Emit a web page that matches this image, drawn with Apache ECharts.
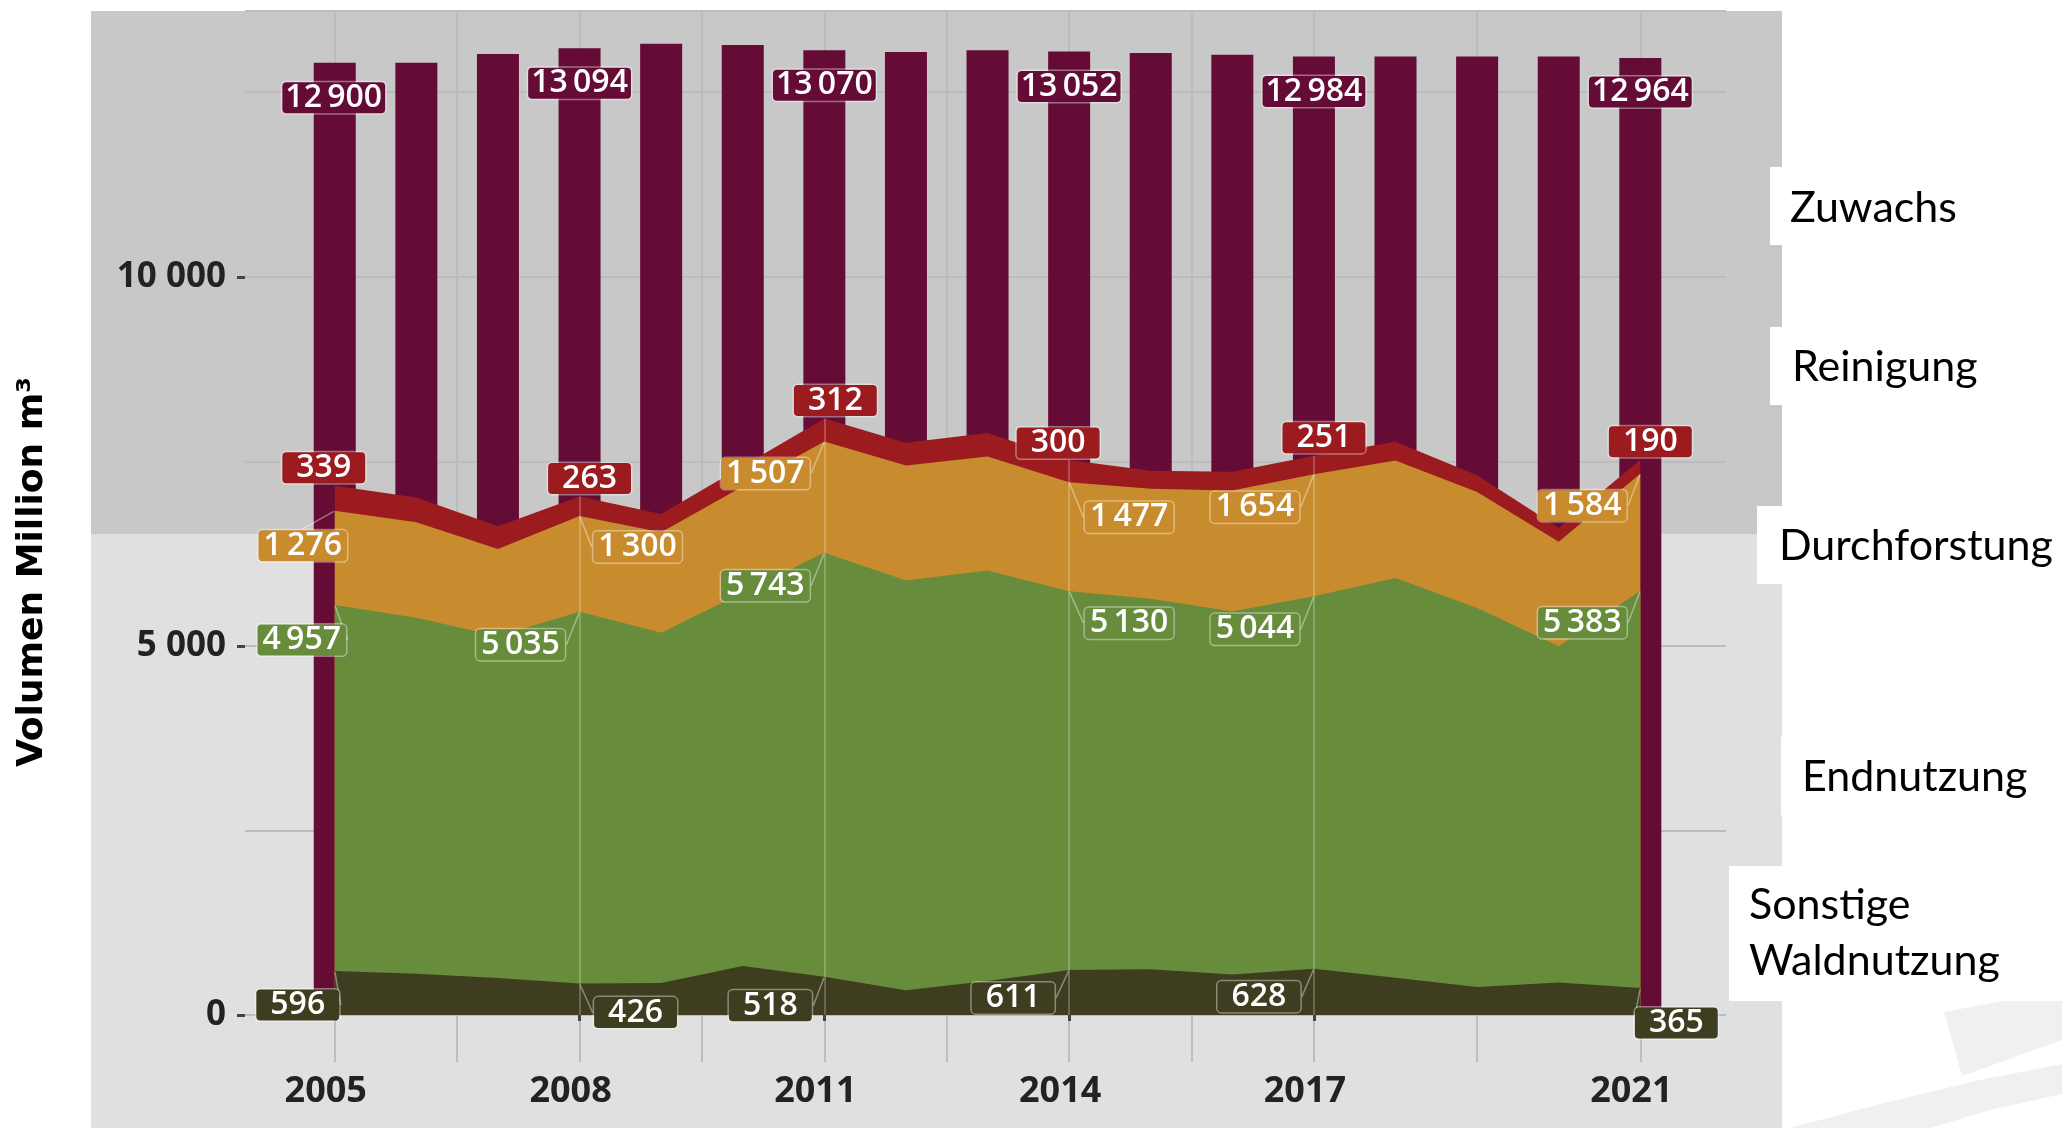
<!DOCTYPE html>
<html>
<head>
<meta charset="utf-8">
<title>Holznutzung und Zuwachs</title>
<script src="https://cdn.jsdelivr.net/npm/echarts@6/dist/echarts.min.js"></script>
<style>
  html, body { margin: 0; padding: 0; background: #fff; }
  #chart { width: 2062px; height: 1128px; }
</style>
</head>
<body>
<div id="chart"></div>
<script>
// Daten (Millionen m³)
const years = [2005, 2006, 2007, 2008, 2009, 2010, 2011, 2012, 2013, 2014, 2015, 2016, 2017, 2018, 2019, 2020, 2021];
const sonstige = [596, 560, 500, 426, 435, 665, 518, 335, 460, 611, 620, 550, 628, 505, 380, 440, 365];
const endnutzung = [4957, 4820, 4632, 5035, 4742, 5054, 5743, 5552, 5562, 5130, 5020, 4915, 5044, 5415, 5134, 4555, 5383];
const durchforstung = [1276, 1294, 1181, 1300, 1363, 1439, 1507, 1558, 1543, 1477, 1490, 1640, 1654, 1590, 1571, 1415, 1584];
const reinigung = [339, 336, 307, 263, 245, 274, 312, 305, 320, 300, 242, 253, 251, 255, 227, 190, 190];
const zuwachs = [12900, 12900, 13016, 13094, 13158, 13138, 13070, 13045, 13070, 13052, 13032, 13008, 12984, 12984, 12984, 12984, 12964];

const labelYears = [2005, 2008, 2011, 2014, 2017, 2021];
const gridYears = [2005, 2006.5, 2008, 2009.5, 2011, 2012.5, 2014, 2015.5, 2017, 2019, 2021];
const yTickValues = [0, 5000, 10000];
const legendNames = ['Zuwachs', 'Reinigung', 'Durchforstung', 'Endnutzung', 'Sonstige\nWaldnutzung'];
const axisTitle = 'Volumen Million m³';

// Farben
const colors = {
  zuwachs: '#640c36',
  reinigung: '#9b1b1f',
  durchforstung: '#c88b2e',
  endnutzung: '#668c3c',
  sonstige: '#3f3d1f'
};

// Verschiebung der Wertelabels relativ zum Datenpunkt (px)
const labelShift = {
  zuwachs: [[-1, 35], [0, 35], [0, 35], [0, 35], [0, 35], [0, 34]],
  reinigung: [[-11, -18], [10, -18], [11, -18], [-11, -17], [10, -18], [10, -18]],
  durchforstung: [[-32, 35], [58, 31], [-59, 32], [60, 35], [-59, 33], [-58, 32]],
  endnutzung: [[-33, 35], [-59, 33], [-59, 33], [60, 32], [-59, 33], [-58, 32]],
  sonstige: [[-37, 34], [56, 29], [-54, 29], [-56, 28], [-55, 28], [36, 35]]
};

const fmt = n => String(n).replace(/\B(?=(\d{3})+(?!\d))/g, '\u2009');

// kumulierte Werte (Schichten übereinander)
const layers = [sonstige, endnutzung, durchforstung, reinigung];
const cum = [];
let run = years.map(() => 0);
layers.forEach(l => {
  run = run.map((v, i) => v + l[i]);
  cum.push(run);
});

// Fläche von 0 bis zur kumulierten Summe; die oberen Schichten werden zuerst gezeichnet
function areaSeries(name, totals, color, z, extra) {
  return Object.assign({
    name: name,
    type: 'line',
    z: z,
    symbol: 'none',
    silent: true,
    lineStyle: { width: 0 },
    areaStyle: { color: color, opacity: 1 },
    emphasis: { disabled: true },
    data: years.map((y, i) => [y, totals[i]])
  }, extra || {});
}

function labelSeries(pos, raw, color, shift, guide) {
  return {
    type: 'scatter',
    z: 8,
    silent: true,
    symbol: 'circle',
    symbolSize: 2,
    itemStyle: { color: 'rgba(0,0,0,0)', opacity: 1 },
    emphasis: { disabled: true },
    data: labelYears.map(y => {
      const i = years.indexOf(y);
      const txt = fmt(raw[i]);
      const padX = txt.length <= 3 ? 14 : (txt.length >= 6 ? 3 : 5);
      return { value: [y, pos[i], raw[i]], label: { padding: [0, padX] } };
    }),
    label: {
      show: true,
      position: 'inside',
      opacity: 1,
      formatter: p => fmt(p.value[2]),
      color: '#fff',
      fontFamily: 'Open Sans',
      fontWeight: 600,
      fontSize: 32,
      lineHeight: 31,
      backgroundColor: color,
      borderColor: 'rgba(255,255,255,0.4)',
      borderWidth: 1.5,
      borderRadius: 4
    },
    labelLayout: p => ({ dx: shift[p.dataIndex][0], dy: shift[p.dataIndex][1] }),
    labelLine: {
      show: guide,
      length: 0,
      lineStyle: { color: 'rgba(255,255,255,0.4)', width: 1.5 }
    }
  };
}

const chart = echarts.init(document.getElementById('chart'));

const xMin = 2003.9, xMax = 2022.05, yMax = 13600;

const graphics = [
  // Hintergrund
  { type: 'rect', z: -10, silent: true, shape: { x: 91, y: 11, width: 1691, height: 523 }, style: { fill: '#c8c8c8' } },
  { type: 'rect', z: -10, silent: true, shape: { x: 91, y: 534, width: 1691, height: 594 }, style: { fill: '#e0e0e0' } },
  // Wasserzeichen unten rechts
  { type: 'polygon', z: -11, silent: true, shape: { points: [[1944, 1012], [2062, 990], [2062, 1040], [1962, 1076]] }, style: { fill: '#f0f0f0' } },
  { type: 'polygon', z: -11, silent: true, shape: { points: [[1790, 1128], [1880, 1104], [1980, 1080], [2062, 1064], [2062, 1094], [1990, 1110], [1930, 1128]] }, style: { fill: '#f0f0f0' } },
  // Achsentitel
  {
    type: 'text', z: 10, x: 33, y: 572, rotation: Math.PI / 2,
    style: { text: axisTitle, font: 'bold 36px "DejaVu Sans"', fill: '#000', align: 'center', verticalAlign: 'middle' }
  }
];

// Beschriftungen rechts mit weissen Kästen
const boxes = [
  { x: 1770, y: 167, w: 292, h: 78, tx: 1790, ty: 208 },
  { x: 1770, y: 327, w: 292, h: 78, tx: 1792, ty: 367 },
  { x: 1757, y: 506, w: 305, h: 78, tx: 1779, ty: 546 },
  { x: 1781, y: 737, w: 281, h: 78, tx: 1802, ty: 777 },
  { x: 1729, y: 866, w: 333, h: 135, tx: 1749, ty: 933 }
];
boxes.forEach((b, i) => {
  graphics.push({ type: 'rect', z: 10, silent: true, shape: { x: b.x, y: b.y, width: b.w, height: b.h }, style: { fill: '#fff' } });
  graphics.push({
    type: 'text', z: 11, x: b.tx, y: b.ty,
    style: { text: legendNames[i], font: '43px Lato', fill: '#000', align: 'left', verticalAlign: 'middle', lineHeight: 56 }
  });
});

const markYears = labelYears.filter(y => y !== 2005 && y !== 2021);

chart.setOption({
  animation: false,
  backgroundColor: '#fff',
  grid: { left: 245, right: 336, top: 11, bottom: 113, containLabel: false, outerBoundsMode: 'none' },
  xAxis: [
    {
      type: 'value', min: xMin, max: xMax, position: 'bottom',
      axisLine: { show: false },
      axisTick: { show: true, customValues: gridYears, length: 47, lineStyle: { color: '#bdbdbd', width: 2 } },
      axisLabel: { show: false },
      splitLine: { show: true, lineStyle: { color: '#bcbcbc', width: 2 } }
    },
    {
      type: 'value', min: xMin, max: xMax, position: 'bottom', offset: 47,
      axisLine: { show: false },
      axisTick: { show: true, customValues: labelYears, length: 6, lineStyle: { color: '#444', width: 3 } },
      axisLabel: {
        customValues: labelYears, formatter: v => String(v), margin: 12,
        fontFamily: 'Open Sans', fontWeight: 'bold', fontSize: 36, color: '#222', padding: [0, 18, 0, 0]
      },
      splitLine: { show: false }
    }
  ],
  yAxis: [
    {
      type: 'value', min: 0, max: yMax, interval: 2500, position: 'left',
      axisLine: { show: false }, axisTick: { show: false }, axisLabel: { show: false },
      splitLine: { show: true, lineStyle: { color: '#bcbcbc', width: 2 } }
    },
    {
      type: 'value', min: 0, max: yMax, position: 'left',
      axisLine: { show: false },
      axisTick: { show: true, customValues: yTickValues, length: 8, lineStyle: { color: '#444', width: 3 } },
      axisLabel: {
        customValues: yTickValues, formatter: v => String(v).replace(/\B(?=(\d{3})+(?!\d))/g, ' '),
        margin: 19, fontFamily: 'Open Sans', fontWeight: 'bold', fontSize: 35, color: '#222'
      },
      splitLine: { show: false }
    }
  ],
  graphic: graphics,
  series: [
    {
      name: 'Zuwachs', type: 'bar', z: 1, silent: true, barWidth: 42,
      itemStyle: { color: colors.zuwachs },
      emphasis: { disabled: true },
      data: years.map((y, i) => [y, zuwachs[i]])
    },
    areaSeries('Reinigung', cum[3], colors.reinigung, 2, {
      markLine: {
        silent: true, symbol: 'none', label: { show: false }, z: 6,
        lineStyle: { color: 'rgba(255,255,255,0.3)', width: 1.5, type: 'solid' },
        data: markYears.map(y => {
          const i = years.indexOf(y);
          return [{ coord: [y, 0] }, { coord: [y, cum[3][i]] }];
        })
      }
    }),
    areaSeries('Durchforstung', cum[2], colors.durchforstung, 3),
    areaSeries('Endnutzung', cum[1], colors.endnutzung, 4),
    areaSeries('Sonstige Waldnutzung', cum[0], colors.sonstige, 5),
    labelSeries(zuwachs, zuwachs, colors.zuwachs, labelShift.zuwachs, false),
    labelSeries(cum[3], reinigung, colors.reinigung, labelShift.reinigung, false),
    labelSeries(cum[2], durchforstung, colors.durchforstung, labelShift.durchforstung, true),
    labelSeries(cum[1], endnutzung, colors.endnutzung, labelShift.endnutzung, true),
    labelSeries(cum[0], sonstige, colors.sonstige, labelShift.sonstige, true)
  ]
});
</script>
</body>
</html>
